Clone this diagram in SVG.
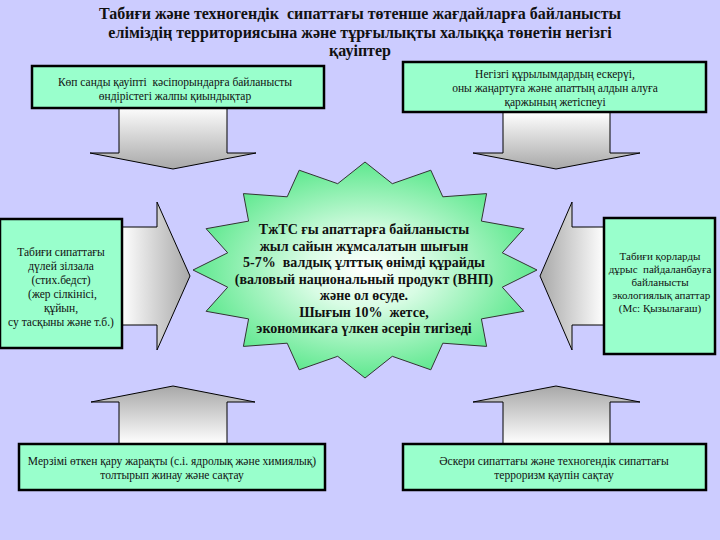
<svg xmlns="http://www.w3.org/2000/svg" width="720" height="540" viewBox="0 0 720 540">
<style>
.bg{fill:#CCCCFF}
.box{fill:#99FFCC;stroke:#000;stroke-width:2.5}
.arr{stroke:#000;stroke-width:1}
.t{font-family:"Liberation Serif","DejaVu Serif",serif;font-size:11.5px;fill:#111;text-anchor:middle;white-space:pre}
.ts{font-size:11px}
.tb{font-family:"Liberation Serif","DejaVu Serif",serif;font-weight:bold;fill:#111;text-anchor:middle;white-space:pre}
</style>
<defs>
<linearGradient id="gDown" x1="0" y1="0" x2="0" y2="1"><stop offset="0" stop-color="#FFFFFF"/><stop offset="1" stop-color="#A8A8A8"/></linearGradient>
<linearGradient id="gUp" x1="0" y1="1" x2="0" y2="0"><stop offset="0" stop-color="#FFFFFF"/><stop offset="1" stop-color="#A8A8A8"/></linearGradient>
<linearGradient id="gRight" x1="0" y1="0" x2="1" y2="0"><stop offset="0" stop-color="#FFFFFF"/><stop offset="1" stop-color="#A8A8A8"/></linearGradient>
<linearGradient id="gLeft" x1="1" y1="0" x2="0" y2="0"><stop offset="0" stop-color="#FFFFFF"/><stop offset="1" stop-color="#A8A8A8"/></linearGradient>
<radialGradient id="gStar" cx="0.5" cy="0.5" r="0.5"><stop offset="0" stop-color="#FFFFFF"/><stop offset="0.35" stop-color="#D8FCE4"/><stop offset="1" stop-color="#5FE88F"/></radialGradient>
</defs>
<rect class="bg" x="0" y="0" width="720" height="540"/>

<g id="title">
<text class="tb" font-size="16" x="360" y="19">Табиғи және техногендік  сипаттағы төтенше жағдайларға байланысты</text>
<text class="tb" font-size="16" x="360" y="38">еліміздің территориясына және тұрғылықты халыққа төнетін негізгі</text>
<text class="tb" font-size="16" x="360" y="56">қауіптер</text>
</g>

<g id="connectors">
<polygon class="arr" fill="url(#gDown)" points="119,106 227,106 227,153 256,153 173,169 90,153 119,153"/>
<polygon class="arr" fill="url(#gDown)" points="503,112 610,112 610,153 640,153 556,169 473,153 503,153"/>
<polygon class="arr" fill="url(#gUp)" points="119,444 227,444 227,402 255,402 173,386 91,402 119,402"/>
<polygon class="arr" fill="url(#gUp)" points="503,444 610,444 610,402 640,402 556,386 473,402 503,402"/>
<polygon class="arr" fill="url(#gRight)" points="121,227 157,227 157,202 190,276 157,350 157,325 121,325"/>
<polygon class="arr" fill="url(#gLeft)" points="605,227 572,227 572,202 540,276 572,350 572,325 605,325"/>
</g>

<g id="node-top-left">
<rect class="box" x="32" y="66" width="292" height="42"/>
<text class="t" x="175" y="86">Көп санды қауіпті  кәсіпорындарға байланысты</text>
<text class="t" x="175" y="100">өндірістегі жалпы қиындықтар</text>
</g>

<g id="node-top-right">
<rect class="box" x="403" y="62" width="303" height="50"/>
<text class="t" x="555" y="78">Негізгі құрылымдардың ескерүі,</text>
<text class="t" x="555" y="92">оны жаңартуға және апаттың алдын алуға</text>
<text class="t" x="555" y="106">қаржының жетіспеуі</text>
</g>

<g id="node-left">
<rect class="box" x="0" y="219" width="122" height="129"/>
<text class="t" x="61" y="256">Табиғи сипаттағы</text>
<text class="t" x="61" y="270">дүлей зілзала</text>
<text class="t" x="61" y="284">(стих.бедст)</text>
<text class="t" x="61" y="298"> (жер сілкінісі,</text>
<text class="t" x="61" y="312">құйын,</text>
<text class="t" x="61" y="326">су тасқыны және т.б.)</text>
</g>

<g id="node-right">
<rect class="box" x="604" y="218" width="111" height="136"/>
<text class="t ts" x="660" y="260">Табиғи қорларды</text>
<text class="t ts" x="660" y="273">дұрыс  пайдаланбауға</text>
<text class="t ts" x="660" y="286">байланысты</text>
<text class="t ts" x="660" y="299"> экологиялық апаттар</text>
<text class="t ts" x="660" y="312">(Мс: Қызылағаш)</text>
</g>

<g id="node-center">
<polygon fill="url(#gStar)" stroke="#333" stroke-width="1" points="365,162 392.3,183.7 430.8,170.2 442.8,196.8 486.6,193.6 481.4,221.1 523.9,228.7 502.3,252.8 537,270 502.3,287.2 523.9,311.3 481.4,318.9 486.6,346.4 442.8,343.2 430.8,369.8 392.3,356.3 365,378 337.7,356.3 299.2,369.8 287.2,343.2 243.4,346.4 248.6,318.9 206.1,311.3 227.7,287.2 193,270 227.7,252.8 206.1,228.7 248.6,221.1 243.4,193.6 287.2,196.8 299.2,170.2 337.7,183.7"/>
<text class="tb" font-size="14" x="364" y="234">ТжТС ғы апаттарға байланысты</text>
<text class="tb" font-size="14" x="364" y="251">жыл сайын жұмсалатын шығын</text>
<text class="tb" font-size="14" x="364" y="267">5-7%  валдық ұлттық өнімді құрайды</text>
<text class="tb" font-size="14" x="364" y="284">(валовый национальный продукт (ВНП)</text>
<text class="tb" font-size="14" x="364" y="300">және ол өсуде.</text>
<text class="tb" font-size="14" x="364" y="317">Шығын 10%  жетсе,</text>
<text class="tb" font-size="14" x="364" y="333">экономикаға үлкен әсерін тигізеді</text>
</g>

<g id="node-bottom-left">
<rect class="box" x="19" y="444" width="306" height="46"/>
<text class="t" x="172" y="465">Мерзімі өткен қару жарақты (с.і. ядролық және химиялық)</text>
<text class="t" x="172" y="479">толтырып жинау және сақтау</text>
</g>

<g id="node-bottom-right">
<rect class="box" x="403" y="444" width="303" height="46"/>
<text class="t" x="554" y="465">Әскери сипаттағы және техногендік сипаттағы</text>
<text class="t" x="554" y="479">терроризм қаупін сақтау</text>
</g>
</svg>
